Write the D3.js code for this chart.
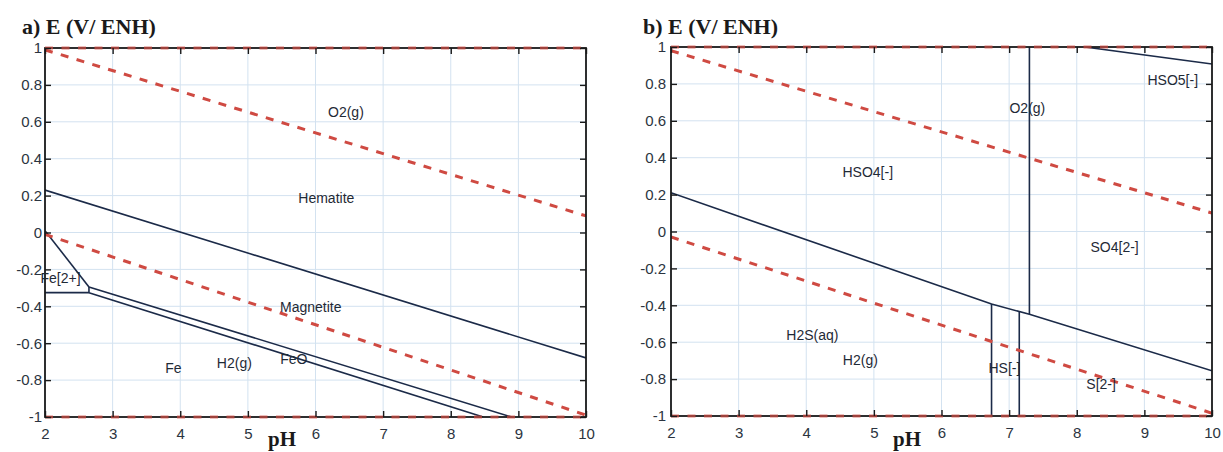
<!DOCTYPE html>
<html>
<head>
<meta charset="utf-8">
<script src="https://cdn.jsdelivr.net/npm/d3@7"></script>
<style>
  html, body { margin: 0; padding: 0; background: #fff; }
  svg { display: block; }
  .tick text { font-family: "Liberation Sans", Arial, sans-serif; font-size: 15px; fill: #2b3440; }
</style>
</head>
<body>
<svg id="chart" width="1223" height="452"></svg>
<script>
// ---------- data ----------
const pHTicks = [2, 3, 4, 5, 6, 7, 8, 9, 10];
const eTicks = [-1, -0.8, -0.6, -0.4, -0.2, 0, 0.2, 0.4, 0.6, 0.8, 1];
const panelTitles = ["a) E (V/ ENH)", "b) E (V/ ENH)"];
const xAxisTitle = "pH";

// Panel a (Fe) : water lines (dashed) as [pH, E]
const aWaterUpper = [[2, 0.99], [10, 0.09]];
const aWaterLower = [[2, -0.01], [10, -0.99]];
// Panel a : solid boundaries
const aHematiteMagnetite = [[2, 0.23], [10, -0.68]];
const aFe2Upper = [[2, 0.01], [2.65, -0.295]];
const aFe2Lower = [[2, -0.326], [2.65, -0.326]];
const aFe2Right = [[2.65, -0.295], [2.65, -0.326]];
const aMagnetiteFeO = [[2.65, -0.295], [8.9, -1]];
const aFeOFe = [[2.65, -0.326], [8.48, -1]];
const aLabelText = ["O2(g)", "Hematite", "Fe[2+]", "Magnetite", "Fe", "H2(g)", "FeO"];
const aLabelPH = [6.45, 6.16, 2.23, 5.93, 3.90, 4.80, 5.68];
const aLabelE = [0.653, 0.187, -0.247, -0.404, -0.734, -0.706, -0.686];

// Panel b (S) : water lines
const bWaterUpper = [[2, 0.98], [10, 0.10]];
const bWaterLower = [[2, -0.03], [10, -0.985]];
// Panel b : solid boundaries
const bOxRed = [[2, 0.21], [6.74, -0.393], [7.3, -0.449], [10, -0.755]];
const bO2Vertical = [[7.3, 1], [7.3, -0.449]];
const bHSLeft = [[6.74, -1], [6.74, -0.393]];
const bHSRight = [[7.15, -1], [7.15, -0.434]];
const bHSO5 = [[8.12, 1], [10, 0.908]];
const bLabelText = ["O2(g)", "HSO5[-]", "HSO4[-]", "SO4[2-]", "H2S(aq)", "H2(g)", "HS[-]", "S[2-]"];
const bLabelPH = [7.27, 9.42, 4.91, 8.56, 4.09, 4.80, 6.93, 8.36];
const bLabelE = [0.669, 0.821, 0.321, -0.086, -0.561, -0.696, -0.740, -0.827];

// ---------- drawing ----------
const svg = d3.select("#chart");

const panels = [
  { id: "a", box: [45, 586, 48, 417], title: panelTitles[0], titleX: 22, pHX: 268,
    dashed: [aWaterUpper, aWaterLower],
    solid: [aHematiteMagnetite, aFe2Upper, aFe2Lower, aFe2Right, aMagnetiteFeO, aFeOFe],
    labels: aLabelText.map((t, i) => ({ t, pH: aLabelPH[i], E: aLabelE[i] })) },
  { id: "b", box: [671, 1212, 47, 416], title: panelTitles[1], titleX: 643, pHX: 893,
    dashed: [bWaterUpper, bWaterLower],
    solid: [bOxRed, bO2Vertical, bHSLeft, bHSRight, bHSO5],
    labels: bLabelText.map((t, i) => ({ t, pH: bLabelPH[i], E: bLabelE[i] })) }
];

const fmt = d => String(+d.toFixed(1));

panels.forEach(p => {
  const [x0, x1, y0, y1] = p.box;
  const x = d3.scaleLinear().domain([2, 10]).range([x0, x1]);
  const y = d3.scaleLinear().domain([-1, 1]).range([y1, y0]);
  const g = svg.append("g");

  // clip
  svg.append("clipPath").attr("id", "clip-" + p.id)
    .append("rect").attr("x", x0).attr("y", y0).attr("width", x1 - x0).attr("height", y1 - y0);

  // grid
  g.append("g").selectAll("line.vg").data(pHTicks).join("line")
    .attr("x1", d => x(d)).attr("x2", d => x(d)).attr("y1", y0).attr("y2", y1)
    .attr("stroke", "#d3e2f0").attr("stroke-width", 1);
  g.append("g").selectAll("line.hg").data(eTicks).join("line")
    .attr("x1", x0).attr("x2", x1).attr("y1", d => y(d)).attr("y2", d => y(d))
    .attr("stroke", "#d3e2f0").attr("stroke-width", 1);

  const line = d3.line().x(d => x(d[0])).y(d => y(d[1]));
  const plot = g.append("g").attr("clip-path", "url(#clip-" + p.id + ")");

  // solid boundaries
  p.solid.forEach(s => {
    plot.append("path").attr("d", line(s)).attr("fill", "none")
      .attr("stroke", "#1b2a48").attr("stroke-width", 1.6);
  });

  // frame
  g.append("rect").attr("x", x0).attr("y", y0).attr("width", x1 - x0).attr("height", y1 - y0)
    .attr("fill", "none").attr("stroke", "#1a1a1a").attr("stroke-width", 1.8);

  // red dashed water lines + dashed top/bottom limits
  const dashStyle = sel => sel.attr("fill", "none").attr("stroke", "#cf4a42")
    .attr("stroke-width", 3).attr("stroke-dasharray", "8,8.5");
  p.dashed.forEach(s => dashStyle(plot.append("path").attr("d", line(s))));
  dashStyle(g.append("path").attr("d", line([[2, 1], [10, 1]])).attr("stroke-width", 2.2).attr("opacity", 0.7));
  dashStyle(g.append("path").attr("d", line([[2, -1], [10, -1]])).attr("stroke-width", 2.2).attr("opacity", 0.7));

  // axes (inward ticks)
  g.append("g").attr("transform", `translate(0,${y1})`)
    .call(d3.axisBottom(x).tickValues(pHTicks).tickSizeInner(-6).tickSizeOuter(0).tickPadding(11).tickFormat(fmt));
  g.append("g").attr("transform", `translate(0,${y0})`)
    .call(d3.axisTop(x).tickValues(pHTicks).tickSizeInner(-6).tickSizeOuter(0).tickFormat(""));
  g.append("g").attr("transform", `translate(${x0},0)`)
    .call(d3.axisLeft(y).tickValues(eTicks).tickSizeInner(-6).tickSizeOuter(0).tickPadding(p.id === "a" ? 3 : 5).tickFormat(fmt));
  g.append("g").attr("transform", `translate(${x1},0)`)
    .call(d3.axisRight(y).tickValues(eTicks).tickSizeInner(-6).tickSizeOuter(0).tickFormat(""));
  g.selectAll(".domain").remove();
  g.selectAll(".tick line").attr("stroke", "#1a1a1a").attr("stroke-width", 1.4);

  // region labels
  g.append("g").selectAll("text").data(p.labels).join("text")
    .attr("x", d => x(d.pH)).attr("y", d => y(d.E))
    .attr("text-anchor", "middle").attr("dominant-baseline", "central")
    .attr("font-family", "Liberation Sans, Arial, sans-serif").attr("font-size", 14)
    .attr("fill", "#1f2a36")
    .text(d => d.t);

  // titles
  g.append("text").attr("x", p.titleX).attr("y", 34)
    .attr("font-family", "Liberation Serif, Times New Roman, serif").attr("font-weight", "bold")
    .attr("font-size", 22).attr("fill", "#1a1a1a").text(p.title);
  g.append("text").attr("x", p.pHX).attr("y", 446)
    .attr("font-family", "Liberation Serif, Times New Roman, serif").attr("font-weight", "bold")
    .attr("font-size", 21).attr("fill", "#1a1a1a").text(xAxisTitle);
});
</script>
</body>
</html>
